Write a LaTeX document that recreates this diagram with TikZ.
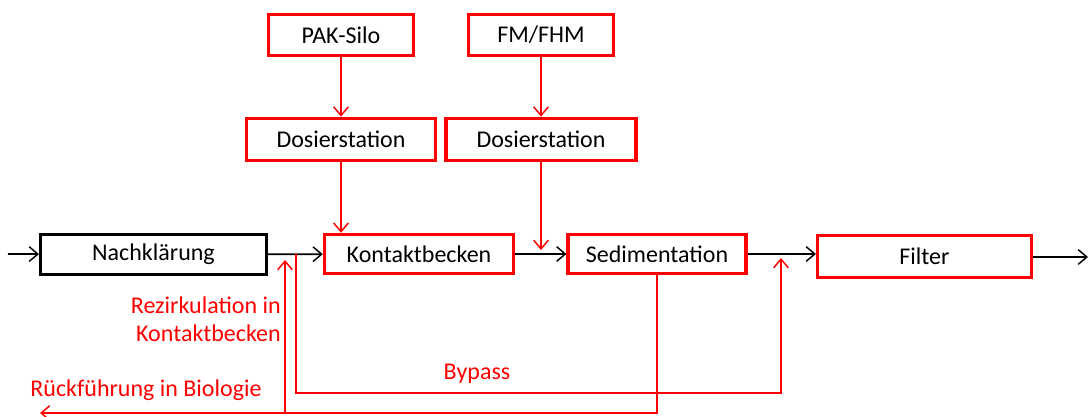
\documentclass[tikz,border=0pt]{standalone}
\usepackage{fontspec}
\setmainfont{Carlito}
\usetikzlibrary{arrows.meta,positioning}

\begin{document}
\begin{tikzpicture}[x=0.75pt,y=-0.75pt,
  box/.style={rectangle,draw=red,line width=2.3pt,inner sep=0pt,font=\fontsize{18}{21}\selectfont},
  flow/.style={line width=1.3pt,-{Straight Barb[length=6.5pt,width=11pt,line width=1.1pt]}},
  redflow/.style={flow,draw=red},
  redlabel/.style={text=red,font=\fontsize{18}{21}\selectfont,inner sep=0pt}]
\useasboundingbox (0,0) rectangle (1090,417);

\node [box,minimum width=109pt,minimum height=31pt] (silo) at (341,35) {PAK-Silo};
\node [box,minimum width=109pt,minimum height=31pt] (fhm) at (541,35) {FM/FHM};
\node [box,minimum width=142pt,minimum height=32pt] (dos1) at (341,139.5) {Dosierstation};
\node [box,minimum width=142.5pt,minimum height=32pt] (dos2) at (541,139.5) {Dosierstation};
\node [box,draw=black,minimum width=169.5pt,minimum height=30pt] (nach) at (153.5,254.5) {Nachklärung};
\node [box,minimum width=142pt,minimum height=29.5pt] (kontakt) at (419,254) {Kontaktbecken};
\node [box,minimum width=133.5pt,minimum height=29.5pt] (sed) at (657,254) {Sedimentation};
\node [box,minimum width=160.5pt,minimum height=31.5pt] (filter) at (924.5,256.5) {Filter};

\node [redlabel,align=right,anchor=east] (rezi) at (281,319) {Rezirkulation in\\Kontaktbecken};
\node [redlabel] (bypass) at (477,374) {Bypass};
\node [redlabel] (rueck) at (146,390) {Rückführung in Biologie};

\coordinate (ein) at (8,254);
\coordinate (aus) at (1088,257);
\coordinate (fhmend) at (541,250);
\coordinate (bp1) at (296,254);
\coordinate (bp2) at (781,258);
\coordinate (rz1) at (285,413);
\coordinate (rz2) at (285,260);
\coordinate (bio) at (40,413);

% Hauptstrom
\draw [flow] (ein) -- (nach);
\draw [flow] (nach) -- (kontakt);
\draw [flow] (kontakt) -- (sed);
\draw [flow] (sed.east) -- (sed.east -| filter.west);
\draw [flow] (filter.east |- aus) -- (aus);

% Dosierung
\draw [redflow] (silo) -- (dos1);
\draw [redflow] (dos1.south) -- (dos1.south |- kontakt.north);
\draw [redflow] (fhm) -- (dos2);
\draw [redflow] (dos2.south) -- (dos2.south |- fhmend);

% Bypass und Rezirkulation
\draw [redflow] (bp1) -- (bp1 |- 0,393) -| (bp2);
\draw [redflow] (sed.south) |- (bio);
\draw [redflow] (rz1) -- (rz2);
\end{tikzpicture}
\end{document}
